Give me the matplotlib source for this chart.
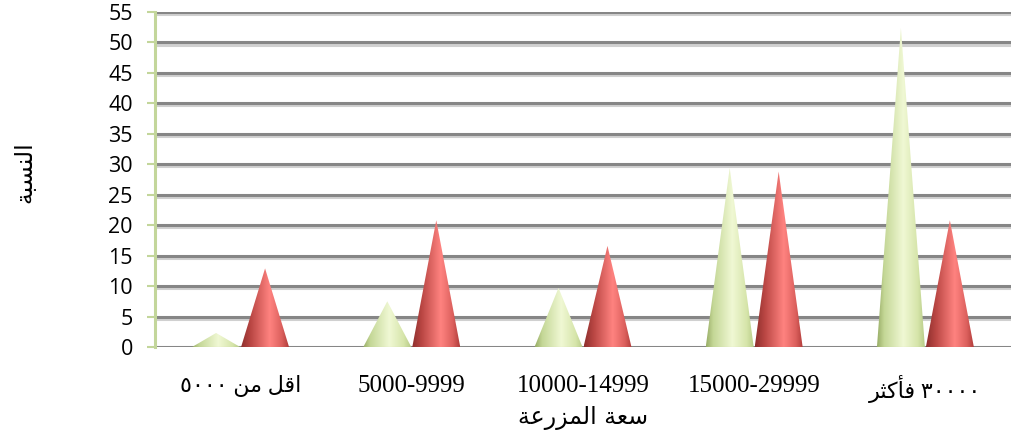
import numpy as np
import matplotlib
matplotlib.use('Agg')
import matplotlib.pyplot as plt
import matplotlib.patheffects as pe
from matplotlib.patches import Polygon
from matplotlib.colors import LinearSegmentedColormap


categories = ['اقل من ٥٠٠٠', '5000-9999', '10000-14999', '15000-29999', '٣٠٠٠٠ فأكثر']
green_vals = [2.3, 7.5, 9.7, 29.4, 52.4]
red_vals = [12.9, 20.8, 16.6, 28.8, 20.8]
y_ticks = list(range(0, 56, 5))
x_title = 'سعة المزرعة'
y_title = 'النسبة'


# matplotlib does no arabic shaping, so pick the presentation forms by hand
# (isolated, final, initial, medial); None = letter does not join the next one
FORMS = {
    'ا': ('\uFE8D', '\uFE8E', None, None),
    'أ': ('\uFE83', '\uFE84', None, None),
    'ب': ('\uFE8F', '\uFE90', '\uFE91', '\uFE92'),
    'ة': ('\uFE93', '\uFE94', None, None),
    'ث': ('\uFE99', '\uFE9A', '\uFE9B', '\uFE9C'),
    'ر': ('\uFEAD', '\uFEAE', None, None),
    'ز': ('\uFEAF', '\uFEB0', None, None),
    'س': ('\uFEB1', '\uFEB2', '\uFEB3', '\uFEB4'),
    'ع': ('\uFEC9', '\uFECA', '\uFECB', '\uFECC'),
    'ف': ('\uFED1', '\uFED2', '\uFED3', '\uFED4'),
    'ق': ('\uFED5', '\uFED6', '\uFED7', '\uFED8'),
    'ك': ('\uFED9', '\uFEDA', '\uFEDB', '\uFEDC'),
    'ل': ('\uFEDD', '\uFEDE', '\uFEDF', '\uFEE0'),
    'م': ('\uFEE1', '\uFEE2', '\uFEE3', '\uFEE4'),
    'ن': ('\uFEE5', '\uFEE6', '\uFEE7', '\uFEE8'),
}


def shape_word(word):
    if not any(c in FORMS for c in word):
        return word
    out = []
    for i, c in enumerate(word):
        if c not in FORMS:
            out.append(c)
            continue
        prev = word[i - 1] if i > 0 else None
        nxt = word[i + 1] if i + 1 < len(word) else None
        jp = prev in FORMS and FORMS[prev][2] is not None
        jn = nxt in FORMS and FORMS[c][2] is not None
        iso, fin, ini, med = FORMS[c]
        if jp and jn:
            out.append(med)
        elif jp:
            out.append(fin)
        elif jn:
            out.append(ini)
        else:
            out.append(iso)
    return ''.join(reversed(out))


def rtl(text):
    if not any(c in FORMS for c in text):
        return text
    return ' '.join(shape_word(w) for w in reversed(text.split()))


green_cmap = LinearSegmentedColormap.from_list('g', [
    (0.0, '#98ad66'), (0.15, '#c4d796'), (0.55, '#f0f8d4'),
    (0.85, '#d6e5aa'), (1.0, '#b8cc88')])
red_cmap = LinearSegmentedColormap.from_list('r', [
    (0.0, '#8e2f2d'), (0.2, '#b94643'), (0.6, '#ff8380'),
    (0.85, '#dc605d'), (1.0, '#b13d3b')])


def cone(ax, xc, h, w, cmap):
    if h <= 0:
        return
    poly = Polygon([(xc - w / 2, 0), (xc + w / 2, 0), (xc, h)], closed=True,
                   facecolor='none', edgecolor='none')
    ax.add_patch(poly)
    grad = np.linspace(0, 1, 256).reshape(1, -1)
    im = ax.imshow(grad, cmap=cmap, extent=[xc - w / 2, xc + w / 2, 0, h],
                   aspect='auto', origin='lower', zorder=3, interpolation='bilinear')
    im.set_clip_path(poly)


fig = plt.figure(figsize=(10.11, 4.41), dpi=100)
ax = fig.add_axes([0.1533, 0.2132, 0.8467, 0.7596])

x = np.arange(len(categories))
w = 0.28
off = 0.143
for i in range(len(categories)):
    cone(ax, x[i] - off, green_vals[i], w, green_cmap)
    cone(ax, x[i] + off, red_vals[i], w, red_cmap)

ax.set_xlim(-0.5, len(categories) - 0.5)
ax.set_ylim(0, 55)

grid_fx = [pe.SimpleLineShadow(offset=(0, -1.5), shadow_color='#d0d0d0', alpha=1), pe.Normal()]
for t in y_ticks:
    ax.axhline(t, color='#868686', lw=2.2, zorder=1, path_effects=grid_fx)

for s in ['top', 'right', 'bottom']:
    ax.spines[s].set_visible(False)
ax.spines['left'].set_color('#c3d69b')
ax.spines['left'].set_linewidth(2.2)
ax.spines['left'].set_zorder(2)

ax.set_yticks(y_ticks)
ax.tick_params(axis='y', colors='#c3d69b', length=6, width=1.5, pad=10,
               labelcolor='black', labelsize=15.5)
for lab in ax.get_yticklabels():
    lab.set_family(['Open Sans', 'DejaVu Sans'])

ax.set_xticks(x)
ax.set_xticklabels([rtl(c) for c in categories], family=['Liberation Serif', 'DejaVu Sans'],
                   fontsize=18)
ax.tick_params(axis='x', length=0, pad=20)
for lab, c in zip(ax.get_xticklabels(), categories):
    if rtl(c) != c:
        lab.set_fontsize(16)

ax.set_xlabel(rtl(x_title), fontsize=17, family=['DejaVu Sans'], labelpad=2)
fig.text(0.024, 0.61, rtl(y_title), rotation=90, fontsize=17, family=['DejaVu Sans'],
         ha='center', va='center')

fig.savefig('out.png', dpi=100)
